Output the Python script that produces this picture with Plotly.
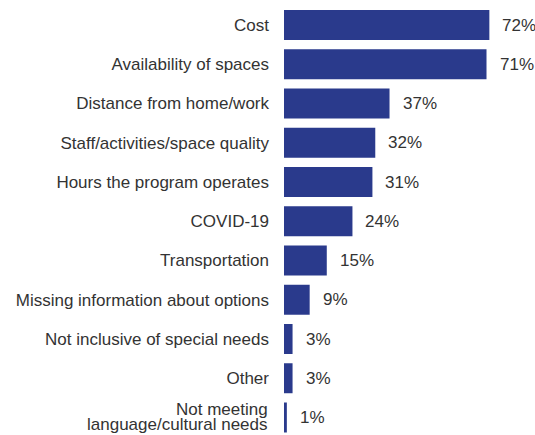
import plotly.graph_objects as go

categories = [
    "Cost",
    "Availability of spaces",
    "Distance from home/work",
    "Staff/activities/space quality",
    "Hours the program operates",
    "COVID-19",
    "Transportation",
    "Missing information about options",
    "Not inclusive of special needs",
    "Other",
    "Not meeting language/cultural needs",
]
values = [72, 71, 37, 32, 31, 24, 15, 9, 3, 3, 1]
# last label is split over two tightly spaced lines
wrapped_label = ["Not meeting", "language/cultural needs"]

BAR_COLOR = "#2a3a8c"
TEXT_COLOR = "#333333"
FONT = "Liberation Sans, Arial, sans-serif"

fig = go.Figure()
fig.add_trace(go.Bar(
    x=values, y=categories, orientation="h",
    marker=dict(color=BAR_COLOR, line=dict(width=0)),
    hoverinfo="skip",
))

# value labels just past each bar
for cat, val in zip(categories, values):
    fig.add_annotation(
        x=val, y=cat, text=f"{val}%", showarrow=False,
        xanchor="left", xshift=11,
        font=dict(size=17, color=TEXT_COLOR),
    )

# two-line category label, drawn as two annotations for tighter line spacing
for line, shift in zip(wrapped_label, [7.5, -7.5]):
    fig.add_annotation(
        x=0, y=categories[-1], text=line, showarrow=False,
        xanchor="right", xshift=-14, yshift=shift,
        font=dict(size=17, color=TEXT_COLOR),
    )

ticktext = categories[:-1] + [""]

fig.update_layout(
    width=535, height=435,
    margin=dict(t=0, b=0, l=284, r=0, autoexpand=False),
    paper_bgcolor="white",
    plot_bgcolor="white",
    bargap=0.236,
    showlegend=False,
    font=dict(family=FONT, size=17, color=TEXT_COLOR),
    xaxis=dict(range=[0, 88], showgrid=False, showticklabels=False, zeroline=False,
               showline=False, fixedrange=True, automargin=False),
    yaxis=dict(range=[10.446, -0.637], showgrid=False, zeroline=False, showline=False,
               automargin=False, ticks="", ticklabelstandoff=14, fixedrange=True,
               tickmode="array", tickvals=categories, ticktext=ticktext,
               tickfont=dict(size=17, color=TEXT_COLOR)),
)

fig.write_html("out.html", config={"displayModeBar": False},
               post_script="document.body.style.margin='0';")
